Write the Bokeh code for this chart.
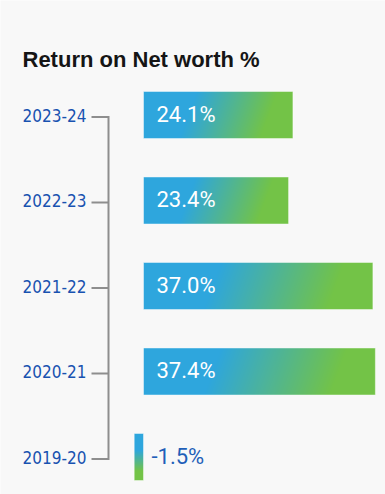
import numpy as np
from bokeh.plotting import figure
from bokeh.models import Range1d
from bokeh.core.properties import value
from bokeh.embed import file_html
from bokeh.resources import INLINE

# ---- data ----
categories = ["2023-24", "2022-23", "2021-22", "2020-21", "2019-20"]
returns = [24.1, 23.4, 37.0, 37.4, -1.5]
bar_labels = ["24.1%", "23.4%", "37.0%", "37.4%", "-1.5%"]
title_text = "Return on Net worth %"

# ---- style ----
BG = "#f8f8f8"
BLUE = np.array([46, 166, 221], dtype=float)
GREEN = np.array([115, 195, 71], dtype=float)
CAT_COLOR = "#1852b0"
BRACKET = "#8e8e8e"
PX_X = 6.2      # pixels per percent unit
PX_Y = 85.5     # pixels per category step
BAR_H = 0.55
X0 = 143        # pixel position of zero
YB = 37.5       # pixel distance of last category from bottom

n = len(categories)
ypos = [n - 1 - i for i in range(n)]

W, H = 385, 494
p = figure(width=W, height=H, output_backend="svg", toolbar_location=None,
           x_range=Range1d(-X0 / PX_X, (W - X0) / PX_X),
           y_range=Range1d(-YB / PX_Y, (H - YB) / PX_Y),
           min_border=0, background_fill_color=BG, border_fill_color=BG)
p.axis.visible = False
p.grid.visible = False
p.outline_line_color = None


def gradient_image(val):
    wpx = max(int(round(abs(val) * PX_X)), 1) * 2
    hpx = int(round(BAR_H * PX_Y)) * 2
    u = (np.arange(wpx) + 0.5) / wpx
    v = (np.arange(hpx) + 0.5) / hpx  # top -> bottom
    if val >= 0:
        t = u[None, :] + 0.37 * (v[:, None] - 0.5) * hpx / wpx
        s = np.clip((t - 0.30) / (0.84 - 0.30), 0, 1)
    else:
        s = np.clip((v[:, None] - 0.36) / (0.80 - 0.36), 0, 1) * np.ones((1, wpx))
    rgb = BLUE[None, None, :] * (1 - s[..., None]) + GREEN[None, None, :] * s[..., None]
    img = np.empty((hpx, wpx), dtype=np.uint32)
    view = img.view(dtype=np.uint8).reshape((hpx, wpx, 4))
    view[..., :3] = np.round(rgb).astype(np.uint8)
    view[..., 3] = 255
    return img[::-1].copy()


for val, y in zip(returns, ypos):
    p.image_rgba(image=[gradient_image(val)], x=[min(0, val)], y=[y - BAR_H / 2],
                 dw=[abs(val)], dh=[BAR_H])

lefts = [min(0, v) for v in returns]
rights = [max(0, v) for v in returns]
p.quad(left=lefts, right=rights, bottom=[y - BAR_H / 2 for y in ypos],
       top=[y + BAR_H / 2 for y in ypos], fill_alpha=0, line_color="white",
       line_alpha=0.45, line_width=1)

# bracket
bx0, bx1 = -52 / PX_X, -35 / PX_X
tick_y = [y - 2 / PX_Y for y in ypos]
p.segment(x0=[bx0] * n, y0=tick_y, x1=[bx1] * n, y1=tick_y, line_color=BRACKET, line_width=2)
p.segment(x0=[bx1], y0=[min(tick_y) - 1 / PX_Y], x1=[bx1], y1=[max(tick_y) + 1 / PX_Y],
          line_color=BRACKET, line_width=2)

# category labels
lab_x = -121 / PX_X
p.text(x=[lab_x] * n, y=ypos, text=categories, text_align="left", text_baseline="middle",
       text_font=value("DejaVu Sans Condensed"), text_font_size="17px", text_color=CAT_COLOR)

# value labels
p.text(x=[0] * n, y=ypos, text=bar_labels,
       x_offset=[13 if v >= 0 else 8 for v in returns], y_offset=[-1] * n,
       text_align="left", text_baseline="middle", text_font=value("Roboto"),
       text_font_size="22px",
       text_color=["white" if v >= 0 else "#1f5fb8" for v in returns])

# title
p.text(x=[lab_x], y=[(H - 59 - YB) / PX_Y], text=[title_text], text_align="left",
       text_baseline="alphabetic", text_font=value("Liberation Sans"), text_font_style="bold",
       text_font_size="22px", text_color="#151515")

html = file_html(p, INLINE)
html = html.replace("<body>", '<body style="background:%s">' % BG, 1)
open("out.html", "w").write(html)
